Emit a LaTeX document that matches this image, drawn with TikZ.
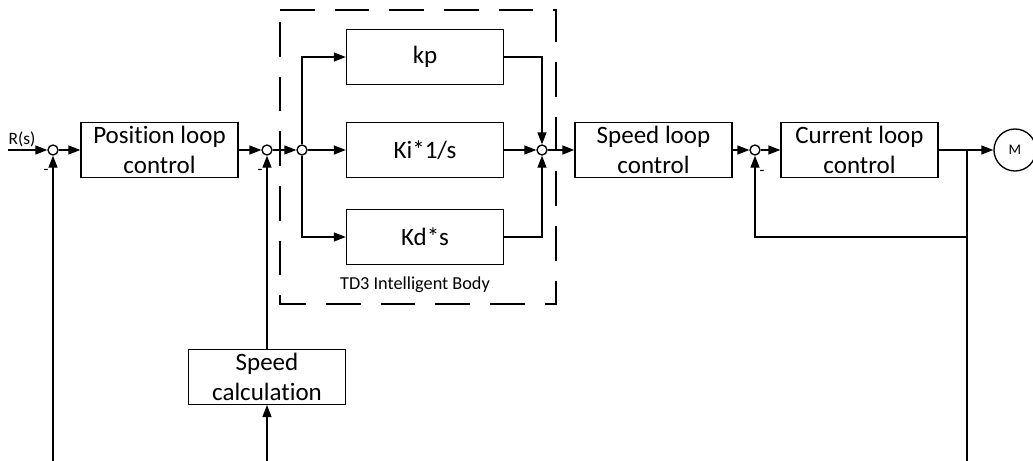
\documentclass[tikz,border=0pt]{standalone}
\usepackage{fontspec}
\setmainfont{Carlito}[Ligatures={NoCommon}]
\usetikzlibrary{arrows.meta}
\begin{document}
\begin{tikzpicture}[x=0.75pt,y=-0.75pt,
  line width=1pt,
  >={Triangle[length=9pt,width=6.75pt]},
  block/.style={draw,minimum width=117.75pt,minimum height=41pt,inner sep=0pt,
    align=center,font=\fontsize{18.75pt}{22.5pt}\selectfont},
  sumpt/.style={draw,circle,minimum size=7.5pt,inner sep=0pt,fill=white},
  minus/.style={font=\fontsize{12pt}{13pt}\selectfont},
  groupbox/.style={draw,line width=1.8pt,dash pattern=on 26pt off 15pt}]
\useasboundingbox (0,0) rectangle (1033,461);

% dashed enclosure of the parallel gain branches
\draw[groupbox] (280,10) -- (556,10) -- (556,304) -- (280,304) -- cycle;
\node[font=\fontsize{13.7pt}{15pt}\selectfont] (tdlabel) at (415,285) {TD3 Intelligent Body};

% summing and branch points
\node[sumpt] (s1) at (53,150) {};
\node[sumpt] (s2) at (267,150) {};
\node[sumpt] (s3) at (302,150) {};
\node[sumpt] (s4) at (542,150) {};
\node[sumpt] (s5) at (755,150) {};

% blocks
\node[block] (pos) at (159.5,150) {Position loop\\control};
\node[block] (kp) at (425,57) {kp};
\node[block] (ki) at (425,150) {Ki*1/s};
\node[block] (kd) at (425,237) {Kd*s};
\node[block] (spd) at (653.5,150) {Speed loop\\control};
\node[block] (cur) at (859.5,150) {Current loop\\control};
\node[block] (calc) at (267,377) {Speed\\calculation};
\node[draw,circle,minimum size=31.5pt,inner sep=0pt,font=\fontsize{11pt}{12pt}\selectfont] (mot) at (1015,150) {M};

% free ends and corners
\coordinate (rin) at (8,150);
\coordinate (br) at (967,150);
\coordinate (brlow) at (967,237);
\coordinate (fbcorner) at (755,237);
\coordinate (bot1) at (53,461);
\coordinate (bot2) at (267,461);
\coordinate (bot3) at (967,461);

% labels
\node[font=\fontsize{13pt}{14pt}\selectfont] (rlabel) at (22,139) {R(s)};
\node[minus] (m1) at (46,172) {-};
\node[minus] (m2) at (260,172) {-};
\node[minus] (m5) at (762,173) {-};

% forward path
\draw[->] (rin) -- (s1);
\draw[->] (s1) -- (pos);
\draw[->] (pos) -- (s2);
\draw[->] (s2) -- (s3);
\draw[->] (s3) -- (ki);
\draw[->] (s3) |- (kp);
\draw[->] (s3) |- (kd);
\draw[->] (kp) -| (s4);
\draw[->] (ki) -- (s4);
\draw[->] (kd) -| (s4);
\draw[->] (s4) -- (spd);
\draw[->] (spd) -- (s5);
\draw[->] (s5) -- (cur);
\draw[->] (cur) -- (mot);

% feedback paths
\draw[->] (br) -- (brlow) -- (fbcorner) -- (s5);
\draw (brlow) -- (bot3);
\draw[->] (bot1) -- (s1);
\draw[->] (bot2) -- (calc);
\draw[->] (calc) -- (s2);
\end{tikzpicture}
\end{document}
